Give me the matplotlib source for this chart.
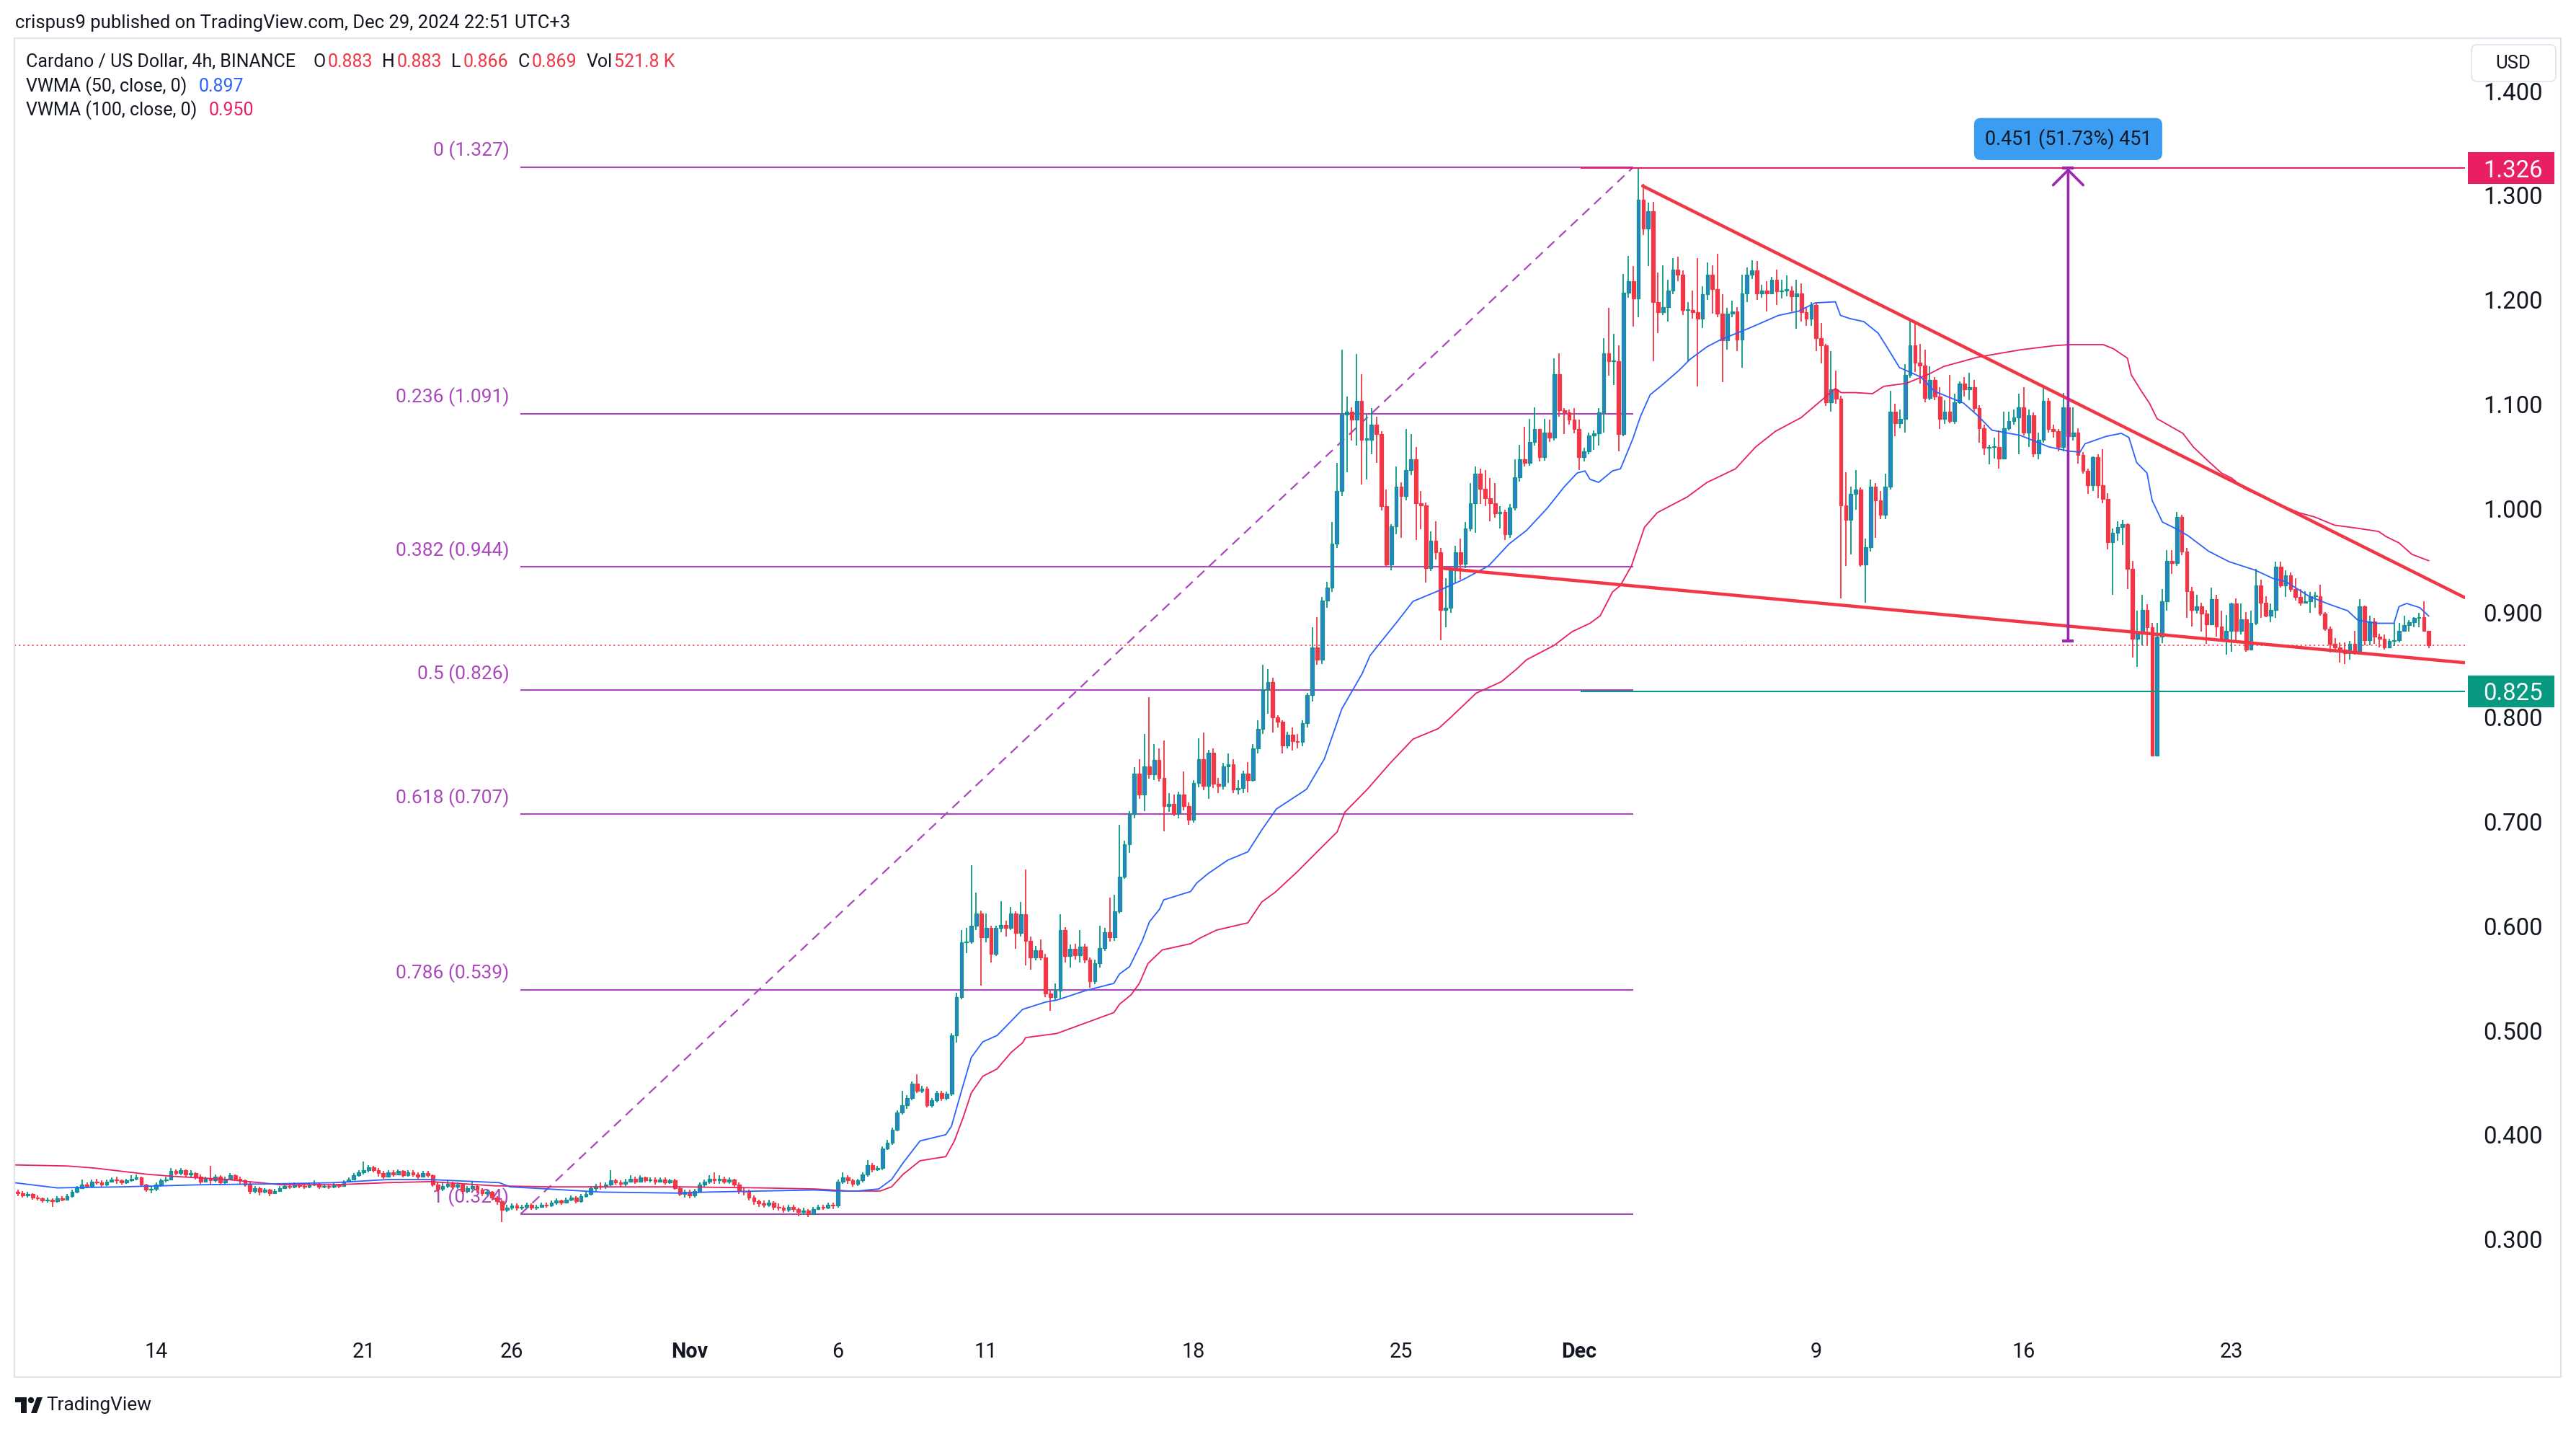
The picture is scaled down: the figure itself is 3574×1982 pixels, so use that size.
import matplotlib
matplotlib.use("Agg")
import matplotlib.pyplot as plt
import numpy as np
from matplotlib.patches import Rectangle, FancyBboxPatch, Circle, Polygon
from matplotlib.transforms import blended_transform_factory, IdentityTransform

plt.rcParams['font.family'] = ['Roboto', 'DejaVu Sans']

# ---------------- DATA ----------------
# 4h candles, days counted from Oct 14 00:00 (UTC+3); first candle Oct 9 08:00
start_day = -4.6667
candle_step = 1 / 6
first_open = 0.345

# Oct 9 08:00 -> Nov 5 20:00
close_oct = [0.344,0.342,0.343,0.340,
 0.339,0.337,0.338,0.336,0.339,0.338,
 0.341,0.345,0.349,0.352,0.351,0.355,
 0.354,0.352,0.355,0.357,0.356,0.354,
 0.356,0.358,0.359,0.352,0.347,0.348,
 0.352,0.356,0.357,0.365,0.363,0.366,
 0.362,0.363,0.360,0.355,0.358,0.356,
 0.360,0.354,0.358,0.361,0.358,0.356,
 0.352,0.346,0.349,0.345,0.347,0.344,
 0.346,0.349,0.351,0.350,0.352,0.351,
 0.350,0.352,0.353,0.350,0.351,0.350,
 0.352,0.351,0.355,0.357,0.361,0.364,
 0.366,0.369,0.366,0.363,0.360,0.364,
 0.362,0.365,0.361,0.364,0.362,0.360,
 0.363,0.361,0.352,0.348,0.351,0.353,
 0.350,0.352,0.346,0.349,0.351,0.347,
 0.344,0.345,0.340,0.336,0.328,0.330,
 0.332,0.330,0.331,0.333,0.330,0.331,
 0.333,0.332,0.335,0.337,0.335,0.338,
 0.340,0.336,0.341,0.343,0.349,0.351,
 0.350,0.352,0.356,0.354,0.353,0.355,
 0.358,0.355,0.359,0.356,0.357,0.355,
 0.357,0.354,0.356,0.349,0.343,0.345,
 0.342,0.346,0.352,0.355,0.358,0.356,
 0.358,0.355,0.357,0.352,0.346,0.345,
 0.340,0.336,0.334,0.333,0.335,0.331,
 0.330,0.328,0.331,0.329,0.326,0.327,
 0.324,0.329,0.331,0.330,0.333,0.332]
high_oct = [0.347,0.346,0.345,0.344,
 0.342,0.340,0.340,0.339,0.341,0.341,
 0.343,0.347,0.351,0.357,0.354,0.357,
 0.358,0.356,0.357,0.359,0.360,0.357,
 0.358,0.361,0.362,0.360,0.353,0.351,
 0.354,0.358,0.360,0.368,0.367,0.368,
 0.367,0.366,0.364,0.362,0.360,0.370,
 0.362,0.361,0.360,0.363,0.362,0.360,
 0.357,0.354,0.351,0.350,0.349,0.348,
 0.348,0.351,0.353,0.353,0.354,0.353,
 0.353,0.354,0.356,0.354,0.353,0.353,
 0.354,0.353,0.356,0.359,0.363,0.366,
 0.374,0.371,0.370,0.368,0.365,0.366,
 0.366,0.367,0.366,0.366,0.366,0.364,
 0.365,0.365,0.362,0.354,0.354,0.357,
 0.355,0.354,0.353,0.351,0.355,0.352,
 0.349,0.347,0.346,0.341,0.338,0.333,
 0.334,0.334,0.333,0.335,0.334,0.333,
 0.335,0.335,0.337,0.339,0.338,0.340,
 0.342,0.341,0.343,0.346,0.351,0.353,
 0.354,0.354,0.366,0.358,0.356,0.358,
 0.361,0.360,0.361,0.360,0.359,0.359,
 0.359,0.359,0.358,0.358,0.351,0.347,
 0.347,0.348,0.354,0.357,0.361,0.364,
 0.361,0.360,0.359,0.358,0.354,0.349,
 0.347,0.342,0.338,0.337,0.338,0.336,
 0.334,0.332,0.333,0.333,0.330,0.330,
 0.329,0.331,0.333,0.333,0.335,0.335]
low_oct = [0.341,0.340,0.340,0.338,
 0.337,0.335,0.335,0.331,0.335,0.336,
 0.337,0.340,0.344,0.348,0.349,0.350,
 0.352,0.350,0.351,0.354,0.353,0.352,
 0.353,0.355,0.356,0.350,0.345,0.344,
 0.346,0.350,0.354,0.356,0.361,0.361,
 0.360,0.360,0.357,0.353,0.354,0.352,
 0.354,0.352,0.352,0.356,0.356,0.353,
 0.350,0.343,0.344,0.342,0.344,0.341,
 0.343,0.345,0.348,0.348,0.349,0.349,
 0.348,0.349,0.351,0.348,0.349,0.348,
 0.349,0.349,0.350,0.354,0.356,0.360,
 0.362,0.364,0.364,0.360,0.358,0.359,
 0.360,0.361,0.359,0.360,0.360,0.358,
 0.359,0.359,0.350,0.345,0.346,0.349,
 0.348,0.348,0.343,0.344,0.347,0.344,
 0.341,0.342,0.337,0.333,0.316,0.326,
 0.328,0.327,0.328,0.330,0.328,0.328,
 0.330,0.330,0.331,0.333,0.333,0.334,
 0.336,0.334,0.335,0.340,0.342,0.346,
 0.347,0.348,0.351,0.352,0.350,0.351,
 0.354,0.353,0.354,0.354,0.354,0.352,
 0.354,0.352,0.353,0.347,0.341,0.340,
 0.339,0.340,0.345,0.350,0.353,0.353,
 0.353,0.353,0.353,0.350,0.343,0.342,
 0.337,0.333,0.331,0.330,0.331,0.328,
 0.327,0.325,0.326,0.326,0.322,0.323,
 0.321,0.323,0.328,0.328,0.329,0.329]

# Nov 6 00:00 -> Nov 20 16:00
close_nov = [0.355,0.359,0.356,0.353,0.356,0.362,0.371,0.367,0.368,0.387,
 0.392,0.405,0.421,0.428,0.435,0.449,0.442,0.444,0.428,0.433,
 0.440,0.435,0.439,0.495,0.532,0.584,0.585,0.600,0.612,0.589,
 0.598,0.573,0.598,0.601,0.598,0.612,0.593,0.611,0.586,0.570,
 0.577,0.570,0.535,0.532,0.538,0.596,0.571,0.578,0.572,0.580,
 0.568,0.547,0.564,0.579,0.594,0.589,0.614,0.647,0.678,0.707,
 0.746,0.726,0.753,0.745,0.759,0.742,0.715,0.717,0.708,0.726,
 0.715,0.702,0.737,0.760,0.734,0.766,0.736,0.734,0.753,0.755,
 0.731,0.732,0.746,0.740,0.770,0.789,0.827,0.834,0.800]
high_nov = [0.357,0.364,0.361,0.358,0.358,0.364,0.376,0.373,0.370,0.389,
 0.395,0.407,0.423,0.442,0.438,0.451,0.458,0.447,0.446,0.435,
 0.442,0.442,0.441,0.497,0.536,0.596,0.598,0.658,0.632,0.615,
 0.612,0.600,0.600,0.624,0.605,0.618,0.614,0.623,0.654,0.590,
 0.581,0.587,0.573,0.538,0.545,0.611,0.599,0.582,0.583,0.596,
 0.583,0.570,0.568,0.600,0.598,0.627,0.630,0.697,0.682,0.710,
 0.752,0.760,0.784,0.819,0.774,0.770,0.778,0.727,0.726,0.729,
 0.748,0.718,0.740,0.780,0.785,0.769,0.770,0.742,0.756,0.765,
 0.760,0.740,0.749,0.757,0.774,0.797,0.850,0.846,0.838]
low_nov = [0.330,0.353,0.353,0.350,0.351,0.354,0.360,0.364,0.365,0.366,
 0.385,0.390,0.403,0.419,0.425,0.433,0.440,0.440,0.426,0.426,
 0.431,0.432,0.433,0.437,0.488,0.530,0.574,0.583,0.596,0.543,
 0.584,0.565,0.571,0.594,0.590,0.596,0.578,0.590,0.562,0.558,
 0.567,0.567,0.532,0.519,0.528,0.530,0.565,0.560,0.568,0.565,
 0.564,0.541,0.544,0.560,0.576,0.585,0.586,0.612,0.645,0.670,
 0.703,0.722,0.710,0.741,0.740,0.738,0.691,0.709,0.705,0.703,
 0.711,0.697,0.699,0.733,0.730,0.722,0.732,0.727,0.731,0.737,
 0.727,0.726,0.727,0.728,0.738,0.765,0.784,0.803,0.785]

# Nov 20 20:00 -> Dec 3 12:00
close_peak = [0.796,0.773,0.783,0.777,0.776,0.794,0.821,0.867,0.855,0.912,
 0.924,0.966,1.017,1.090,1.093,1.085,1.103,1.066,1.066,1.080,
 1.071,1.002,0.946,0.983,1.021,1.012,1.037,1.047,1.005,1.003,
 0.943,0.969,0.958,0.903,0.905,0.941,0.958,0.947,0.981,1.005,
 1.033,1.019,1.010,1.005,0.995,0.997,0.975,1.001,1.030,1.047,
 1.044,1.064,1.076,1.049,1.073,1.068,1.129,1.094,1.092,1.085,
 1.076,1.049,1.055,1.070,1.072,1.092,1.149,1.141,1.141,1.071,
 1.207,1.218,1.201,1.296,1.268,1.285,1.198]
high_peak = [0.802,0.797,0.786,0.790,0.784,0.797,0.823,0.886,0.896,0.915,
 0.930,0.987,1.044,1.152,1.107,1.097,1.148,1.129,1.090,1.096,
 1.088,1.074,1.018,0.985,1.040,1.025,1.076,1.071,1.059,1.017,
 1.006,0.978,0.988,0.962,0.933,0.943,0.964,0.971,0.987,1.024,
 1.040,1.038,1.037,1.029,1.024,1.002,0.999,1.004,1.047,1.061,
 1.078,1.086,1.097,1.076,1.086,1.085,1.144,1.149,1.096,1.095,
 1.096,1.085,1.058,1.073,1.075,1.096,1.163,1.192,1.167,1.156,
 1.225,1.242,1.232,1.326,1.311,1.293,1.294]
low_peak = [0.790,0.765,0.770,0.768,0.770,0.772,0.790,0.815,0.850,0.851,
 0.905,0.920,0.962,1.012,1.035,1.065,1.060,1.023,1.028,1.052,
 1.044,0.998,0.944,0.941,0.975,0.972,1.008,1.032,0.970,0.980,
 0.929,0.940,0.951,0.874,0.886,0.900,0.929,0.932,0.943,0.978,
 0.977,1.004,1.002,0.988,0.991,0.981,0.970,0.972,0.998,1.026,
 1.040,1.041,1.060,1.045,1.046,1.064,1.065,1.088,1.071,1.080,
 1.072,1.037,1.045,1.052,1.056,1.060,1.073,1.127,1.118,1.055,
 1.069,1.202,1.174,1.183,1.262,1.232,1.141]

# Dec 3 16:00 -> Dec 17 04:00
close_dec = [1.188,1.193,1.209,1.229,1.224,1.190,1.190,1.188,1.182,1.205,
 1.224,1.210,1.187,1.161,1.187,1.189,1.162,1.206,1.224,1.228,
 1.206,1.209,1.206,1.219,1.208,1.209,1.209,1.203,1.206,1.188,
 1.182,1.195,1.163,1.156,1.102,1.114,1.105,1.003,0.989,1.014,
 1.018,0.946,0.963,1.021,1.008,0.994,1.021,1.093,1.082,1.086,
 1.128,1.156,1.140,1.137,1.106,1.123,1.107,1.086,1.093,1.084,
 1.102,1.120,1.114,1.116,1.096,1.077,1.058,1.059,1.059,1.048,
 1.077,1.084,1.087,1.097,1.073,1.089,1.053,1.066,1.103,1.076,
 1.074,1.059]
high_dec = [1.226,1.233,1.219,1.240,1.241,1.228,1.198,1.209,1.240,1.213,
 1.236,1.233,1.244,1.205,1.192,1.199,1.193,1.224,1.231,1.238,
 1.237,1.214,1.218,1.222,1.229,1.219,1.223,1.213,1.219,1.216,
 1.192,1.198,1.197,1.178,1.158,1.151,1.132,1.108,1.035,1.021,
 1.037,1.020,0.971,1.028,1.024,1.017,1.033,1.113,1.100,1.095,
 1.138,1.180,1.177,1.158,1.152,1.136,1.126,1.116,1.104,1.128,
 1.110,1.122,1.126,1.130,1.123,1.099,1.080,1.061,1.068,1.075,
 1.093,1.093,1.095,1.110,1.116,1.095,1.092,1.073,1.118,1.106,
 1.080,1.076]
low_dec = [1.168,1.185,1.179,1.205,1.218,1.185,1.141,1.182,1.117,1.173,
 1.200,1.187,1.183,1.121,1.152,1.183,1.151,1.135,1.198,1.220,
 1.200,1.202,1.189,1.205,1.195,1.201,1.203,1.189,1.172,1.179,
 1.175,1.175,1.151,1.139,1.098,1.093,1.100,0.914,0.945,0.956,
 0.999,0.944,0.910,0.959,0.972,0.990,0.990,1.018,1.069,1.077,
 1.073,1.125,1.131,1.120,1.102,1.104,1.104,1.076,1.081,1.082,
 1.081,1.100,1.107,1.104,1.093,1.063,1.051,1.042,1.048,1.038,
 1.047,1.075,1.080,1.052,1.070,1.059,1.049,1.047,1.063,1.073,
 1.068,1.055]

# Dec 17 08:00 -> Dec 29 16:00
close_late = [1.097,1.069,1.073,1.051,1.036,1.022,1.049,1.022,1.009,0.968,
 0.977,0.982,0.985,0.942,0.875,0.880,0.903,0.886,0.763,0.877,
 0.911,0.950,0.948,0.992,0.959,0.921,0.903,0.906,0.899,0.889,
 0.913,0.887,0.874,0.883,0.909,0.883,0.894,0.865,0.890,0.926,
 0.910,0.897,0.903,0.944,0.926,0.936,0.923,0.915,0.910,0.911,
 0.916,0.916,0.899,0.885,0.870,0.867,0.865,0.861,0.870,0.862,
 0.906,0.874,0.892,0.877,0.875,0.867,0.873,0.874,0.883,0.888,
 0.891,0.895,0.896,0.883,0.869]
high_late = [1.111,1.099,1.097,1.077,1.054,1.038,1.050,1.052,1.057,1.015,
 0.981,0.988,0.989,0.986,0.950,0.902,0.917,0.908,0.890,0.890,
 0.923,0.960,0.960,0.997,0.994,0.962,0.925,0.917,0.910,0.903,
 0.924,0.917,0.902,0.898,0.910,0.914,0.909,0.901,0.902,0.942,
 0.932,0.916,0.909,0.949,0.949,0.941,0.939,0.933,0.923,0.921,
 0.920,0.920,0.927,0.901,0.887,0.876,0.872,0.872,0.873,0.883,
 0.913,0.907,0.897,0.895,0.880,0.879,0.875,0.890,0.890,0.897,
 0.893,0.896,0.900,0.911,0.883]
low_late = [1.055,1.066,1.065,1.043,1.033,1.014,1.017,1.010,1.005,0.961,
 0.917,0.969,0.965,0.923,0.857,0.848,0.869,0.869,0.763,0.763,
 0.871,0.902,0.937,0.945,0.955,0.895,0.887,0.899,0.882,0.870,
 0.888,0.877,0.873,0.860,0.863,0.873,0.879,0.863,0.864,0.888,
 0.895,0.896,0.891,0.895,0.924,0.915,0.920,0.912,0.907,0.909,
 0.900,0.905,0.897,0.883,0.862,0.864,0.852,0.851,0.855,0.860,
 0.860,0.869,0.869,0.870,0.867,0.865,0.866,0.868,0.872,0.882,
 0.882,0.886,0.886,0.882,0.866]

# VWMA(50) blue (day, value)
vwma50_days = [-4.78,-3.34,-1.18,1.52,4.21,6.01,7.81,9.25,11.58,11.94,13.2,15.0,17.7,18.6,20.4,22.2,22.9,
 23.66,24.38,24.81,25.2,25.77,26.64,26.83,27.17,27.5,27.89,28.37,28.85,29.23,30.0,30.39,31.35,32.31,32.5,
 32.84,33.27,33.51,33.85,33.99,34.9,35.1,35.48,36.15,36.83,37.3,37.79,38.81,39.41,40.0,40.69,40.95,41.37,
 41.88,42.4,43.25,44.1,44.95,45.64,46.23,46.92,47.51,47.94,48.2,48.37,48.66,49.13,49.4,49.82,50.07,50.4,
 50.79,51.36,51.75,52.32,52.8,53.76,54.73,55.4,55.97,56.65,56.82,57.13,57.61,58.09,58.38,58.81,59.53,
 60.01,60.97,61.45,61.93,62.89,63.85,64.51,64.9,65.07,65.77,66.29,66.55,66.81,67.16,67.33,67.68,68.11,
 68.54,69.24,69.93,70.8,71.41,71.84,72.62,73.23,73.93,74.27,74.88,75.49,75.66,75.92,76.36,76.66]
vwma50_vals = [0.354,0.349,0.350,0.352,0.353,0.354,0.357,0.357,0.354,0.350,0.348,0.345,0.344,0.345,0.346,0.347,0.346,
 0.346,0.348,0.357,0.373,0.394,0.400,0.408,0.442,0.474,0.489,0.495,0.509,0.520,0.527,0.529,0.538,0.545,0.554,
 0.561,0.586,0.604,0.616,0.625,0.633,0.641,0.650,0.663,0.671,0.692,0.712,0.731,0.760,0.808,0.842,0.859,0.874,
 0.892,0.911,0.921,0.932,0.945,0.966,0.979,1.000,1.021,1.034,1.036,1.028,1.025,1.036,1.038,1.067,1.088,1.109,
 1.118,1.132,1.143,1.155,1.162,1.173,1.185,1.189,1.197,1.198,1.185,1.182,1.179,1.168,1.155,1.135,1.126,
 1.112,1.101,1.089,1.075,1.070,1.059,1.055,1.054,1.062,1.069,1.072,1.068,1.044,1.034,1.008,0.987,0.981,
 0.974,0.959,0.949,0.941,0.933,0.930,0.916,0.909,0.902,0.893,0.890,0.890,0.906,0.909,0.905,0.897]

# VWMA(100) red (day, value)
vwma100_days = [-4.78,-2.98,-2.08,-0.28,0.62,2.41,4.21,6.01,7.81,9.25,11.4,13.2,17.7,20.4,22.2,23.4,24.43,
 24.81,25.2,25.77,26.64,26.93,27.22,27.5,27.89,28.37,28.85,29.23,29.33,30.39,31.35,32.31,32.5,32.89,33.17,
 33.46,33.94,34.9,35.19,35.77,36.83,37.3,37.74,38.5,39.2,39.84,40.1,40.86,41.63,42.4,43.25,43.68,44.53,
 45.38,45.89,46.23,47.17,47.77,48.37,48.71,49.13,49.39,49.77,50.21,50.64,51.65,52.32,53.28,53.96,54.63,
 55.49,56.07,56.65,56.84,57.32,57.9,58.28,59.05,59.82,60.3,61.45,62.89,64.03,64.55,65.68,66.03,66.5,
 66.63,66.98,67.24,67.5,68.37,68.72,69.24,69.67,70.02,70.45,70.97,72.28,72.8,73.49,74.27,74.97,75.23,
 75.66,76.1,76.66]
vwma100_vals = [0.371,0.370,0.368,0.362,0.360,0.357,0.352,0.352,0.354,0.355,0.351,0.350,0.350,0.349,0.348,0.346,0.346,
 0.350,0.362,0.375,0.379,0.394,0.416,0.440,0.456,0.463,0.479,0.488,0.493,0.497,0.507,0.517,0.525,0.534,0.545,
 0.564,0.577,0.583,0.588,0.596,0.603,0.623,0.632,0.652,0.672,0.690,0.709,0.731,0.756,0.779,0.789,0.800,0.823,
 0.834,0.846,0.855,0.869,0.882,0.890,0.897,0.920,0.926,0.945,0.982,0.996,1.011,1.025,1.038,1.059,1.074,
 1.087,1.101,1.115,1.111,1.111,1.110,1.117,1.120,1.129,1.136,1.145,1.152,1.156,1.157,1.157,1.153,1.144,
 1.128,1.112,1.101,1.086,1.072,1.059,1.045,1.034,1.029,1.019,1.012,0.996,0.992,0.984,0.981,0.978,0.973,
 0.967,0.956,0.950]

# Fibonacci retracement (TradingView tool)
fib_labels = ["0 (1.327)", "0.236 (1.091)", "0.382 (0.944)", "0.5 (0.826)",
              "0.618 (0.707)", "0.786 (0.539)", "1 (0.324)"]
fib_prices = [1.327, 1.091, 0.944, 0.826, 0.707, 0.539, 0.324]
fib_days = [12.3, 49.83]

# Drawn trend lines (falling wedge)
upper_line_days = [50.15, 77.88]
upper_line_prices = [1.309, 0.9146]
lower_line_days = [43.46, 77.88]
lower_line_prices = [0.9425, 0.8522]

# Horizontal rays
ray_start_day = 48.05
ray_high = 1.326
ray_low = 0.825

# Price range measure
measure_day = 64.5
measure_from = 0.873
measure_to = 1.326
measure_text = "0.451 (51.73%) 451"

price_ticks = [0.3, 0.4, 0.5, 0.6, 0.7, 0.8, 0.9, 1.0, 1.1, 1.2, 1.3, 1.4]
time_tick_days = [0, 7, 12, 18, 23, 28, 35, 42, 48, 56, 63, 70]
time_tick_labels = ['14', '21', '26', 'Nov', '6', '11', '18', '25', 'Dec', '9', '16', '23']
month_labels = ['Nov', 'Dec']
volume_text = "521.8 K"

# ---------------- STYLE ----------------
TXT = '#131722'
RED = '#F23645'
GREEN = '#089981'
UPFACE = '#2F80D1'
BLUE = '#2962FF'
PINK = '#E91E63'
FIB = '#AB47BC'
PURPLE = '#9C27B0'
BORDER = '#E0E3EB'

W, H, DPI = 3574, 1982, 100
fig = plt.figure(figsize=(W / DPI, H / DPI), dpi=DPI)
fig.patch.set_facecolor('white')
renderer = fig.canvas.get_renderer()


def fx(px):
    return px / W


def fy(py):
    return 1 - py / H


def fit_size(text, target_px, base=16, weight='normal'):
    t = fig.text(0, 0, text, fontsize=base, fontweight=weight)
    w = t.get_window_extent(renderer=renderer).width
    t.remove()
    return base * target_px / w


PL, PR, PT, PB = 20, 3420, 55, 1842
ax = fig.add_axes([fx(PL), fy(PB), (PR - PL) / W, (PB - PT) / H])
ax.set_xlim(-4.778, 77.887)
ax.set_ylim(0.2147, 1.4492)
for s in ax.spines.values():
    s.set_visible(False)
ax.set_xticks([])

# ---------------- CANDLES ----------------
closes = np.array(close_oct + close_nov + close_peak + close_dec + close_late)
highs = np.array(high_oct + high_nov + high_peak + high_dec + high_late)
lows = np.array(low_oct + low_nov + low_peak + low_dec + low_late)
opens = np.concatenate([[first_open], closes[:-1]])
highs = np.maximum(highs, np.maximum(opens, closes))
lows = np.minimum(lows, np.minimum(opens, closes))
n = len(closes)
days = start_day + np.arange(n) * candle_step
up = closes >= opens

wick_cols = np.where(up, GREEN, RED)
face_cols = np.where(up, UPFACE, RED)
edge_cols = np.where(up, GREEN, RED)
ax.vlines(days, lows, highs, colors=wick_cols, lw=1.3, zorder=3)
body_h = np.maximum(np.abs(closes - opens), 0.0009)
ax.bar(days, body_h, bottom=np.minimum(opens, closes), width=0.115,
       color=face_cols, edgecolor=edge_cols, linewidth=0.9, zorder=4)

# ---------------- FIB ----------------
fib_fs = fit_size("0.236 (1.091)", 158)
for lab, p in zip(fib_labels, fib_prices):
    ax.hlines(p, fib_days[0], fib_days[1], color=FIB, lw=1.5, zorder=1)
    ax.annotate(lab, xy=(fib_days[0], p), xytext=(-16, 23), textcoords='offset pixels',
                ha='right', va='center', color=FIB, fontsize=fib_fs, zorder=1)
ax.plot(fib_days, [fib_prices[-1], fib_prices[0]], color=FIB, lw=1.6,
        ls=(0, (6, 4)), zorder=1)

# last price dotted line
ax.axhline(closes[-1], color=RED, lw=1.1, ls=(0, (1.5, 2.5)), zorder=2)

# VWMAs
ax.plot(vwma100_days, vwma100_vals, color=PINK, lw=1.3, zorder=5)
ax.plot(vwma50_days, vwma50_vals, color=BLUE, lw=1.3, zorder=5)

# rays
ax.hlines(ray_high, ray_start_day, 77.887, color=PINK, lw=1.5, zorder=5)
ax.hlines(ray_low, ray_start_day, 77.887, color=GREEN, lw=1.5, zorder=5)

# wedge lines
ax.plot(upper_line_days, upper_line_prices, color=RED, lw=3.2, zorder=6, solid_capstyle='round')
ax.plot(lower_line_days, lower_line_prices, color=RED, lw=3.2, zorder=6, solid_capstyle='round')

# measure arrow
ax.annotate('', xy=(measure_day, measure_to), xytext=(measure_day, measure_from),
            arrowprops=dict(arrowstyle='->,head_length=0.75,head_width=0.75', color=PURPLE,
                            lw=2.6, shrinkA=0, shrinkB=0, mutation_scale=20), zorder=7)
ax.plot([measure_day, measure_day], [measure_from, measure_to], ls='none', marker='_',
        ms=12, mew=3, color=PURPLE, zorder=7)
ms_fs = fit_size(measure_text, 232)
ax.text(measure_day, 1.354, measure_text, ha='center', va='center', fontsize=ms_fs,
        color=TXT, zorder=8,
        bbox=dict(boxstyle='round,pad=0.55,rounding_size=0.35', fc='#3A9DF2', ec='none'))

# ---------------- PRICE AXIS ----------------
ax.yaxis.tick_right()
ax.set_yticks(price_ticks)
ax.set_yticklabels([f"{v:.3f}" for v in price_ticks])
ax_fs = fit_size("0.900", 83)
ax.tick_params(axis='y', length=0, pad=18, labelsize=ax_fs, labelcolor=TXT)

ppd = (PB - PT) / (1.4492 - 0.2147)
btrans = blended_transform_factory(fig.transFigure, ax.transData)
for val, col in [(ray_high, PINK), (ray_low, GREEN)]:
    hh = 44 / ppd
    fig.add_artist(Rectangle((fx(3424), val - hh / 2), 120 / W, hh, transform=btrans,
                             fc=col, ec='none', zorder=2))
    fig.text(fx(3445), val, f"{val:.3f}", transform=btrans, ha='left', va='center_baseline',
             color='white', fontsize=ax_fs, zorder=3)

# USD box
idt = IdentityTransform()
fig.add_artist(FancyBboxPatch((3429, H - 113), 117, 51, boxstyle='round,pad=0,rounding_size=8',
                              transform=idt, fc='white', ec=BORDER, lw=1.2, zorder=2))
fig.text(fx(3487), fy(88), "USD", ha='center', va='center', fontsize=fit_size("USD", 49),
         color=TXT, zorder=3)

# ---------------- TIME AXIS ----------------
tl_fs = fit_size("14", 32)
tl_trans = blended_transform_factory(ax.transData, fig.transFigure)
for d, lab in zip(time_tick_days, time_tick_labels):
    fig.text(d, fy(1875), lab, transform=tl_trans, ha='center', va='center', fontsize=tl_fs,
             fontweight='bold' if lab in month_labels else 'normal', color=TXT)

# panel border
fig.add_artist(Rectangle((fx(20), fy(1910)), (3553 - 20) / W, (1910 - 53) / H,
                         transform=fig.transFigure, fill=False, ec=BORDER, lw=1.5, zorder=1))

# ---------------- HEADER ----------------
hdr = "crispus9 published on TradingView.com, Dec 29, 2024 22:51 UTC+3"
fig.text(fx(21), fy(32), hdr, fontsize=fit_size(hdr, 771), color=TXT, va='center', ha='left')

leg_fs = fit_size("Cardano / US Dollar, 4h, BINANCE", 374)


def seq(x, y, parts):
    for s, col, gap in parts:
        t = fig.text(fx(x), fy(y), s, fontsize=leg_fs, color=col, va='center', ha='left')
        x += t.get_window_extent(renderer=renderer).width + gap


seq(36.5, 86, [("Cardano / US Dollar, 4h, BINANCE", TXT, 24),
               ("O", TXT, 3), (f"{opens[-1]:.3f}", RED, 13),
               ("H", TXT, 3), (f"{highs[-1]:.3f}", RED, 13),
               ("L", TXT, 3), (f"{lows[-1]:.3f}", RED, 13),
               ("C", TXT, 3), (f"{closes[-1]:.3f}", RED, 13),
               ("Vol", TXT, 2), (volume_text, RED, 0)])
seq(36.5, 120, [("VWMA (50, close, 0)", TXT, 16), (f"{vwma50_vals[-1]:.3f}", BLUE, 0)])
seq(36.5, 153, [("VWMA (100, close, 0)", TXT, 16), (f"{vwma100_vals[-1]:.3f}", PINK, 0)])

# ---------------- LOGO ----------------
fig.add_artist(Rectangle((21, H - 1945), 16, 7, transform=idt, fc=TXT, ec='none'))
fig.add_artist(Rectangle((29, H - 1960), 8, 22, transform=idt, fc=TXT, ec='none'))
fig.add_artist(Circle((43, H - 1942), 4.2, transform=idt, fc=TXT, ec='none'))
fig.add_artist(Polygon([(43, H - 1960), (51, H - 1938), (59, H - 1938), (51, H - 1960)],
                       closed=True, transform=idt, fc=TXT, ec='none'))
fig.text(fx(64), fy(1949), "TradingView", fontsize=fit_size("TradingView", 146), color=TXT,
         va='center', ha='left')

fig.savefig("out.png", dpi=DPI, facecolor='white')
